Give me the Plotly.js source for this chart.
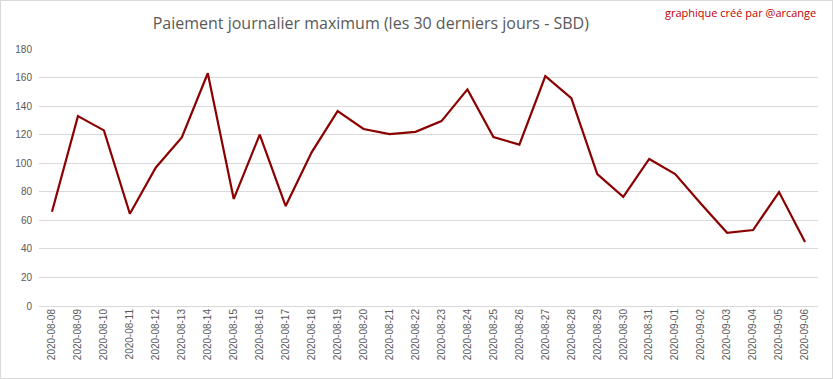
<!DOCTYPE html>
<html>
<head>
<meta charset="utf-8">
<script src="https://cdn.plot.ly/plotly-3.0.1.min.js"></script>
<style>
html,body{margin:0;padding:0;background:#fff;}
#wrap{width:831px;height:377px;border:1px solid #d9d9d9;}
#chart{width:831px;height:377px;}
</style>
</head>
<body>
<div id="wrap"><div id="chart"></div></div>
<script>
const dates = ["2020-08-08","2020-08-09","2020-08-10","2020-08-11","2020-08-12","2020-08-13","2020-08-14","2020-08-15","2020-08-16","2020-08-17","2020-08-18","2020-08-19","2020-08-20","2020-08-21","2020-08-22","2020-08-23","2020-08-24","2020-08-25","2020-08-26","2020-08-27","2020-08-28","2020-08-29","2020-08-30","2020-08-31","2020-09-01","2020-09-02","2020-09-03","2020-09-04","2020-09-05","2020-09-06"];
const maxPayout = [66,133,123,64.6,97,118,163,75,120,70,107.6,136.5,124,120.4,122,129.5,151.7,118.3,113,161,145.6,92.4,76.5,103,92.4,71.4,51.3,53.2,79.8,44.8];
const yTicks = [0,20,40,60,80,100,120,140,160,180];

const trace = {
  x: dates, y: maxPayout, type: 'scatter', mode: 'lines',
  line: {color: '#8b0000', width: 2.2},
  hoverinfo: 'x+y'
};
const layout = {
  width: 831, height: 377,
  margin: {l: 38, r: 14, t: 48, b: 72, pad: 0},
  paper_bgcolor: '#fff', plot_bgcolor: '#fff',
  showlegend: false,
  title: {text: 'Paiement journalier maximum (les 30 derniers jours - SBD)',
    font: {family: 'Open Sans, Noto Sans, sans-serif', size: 16, color: '#595959'},
    x: 0.445, xanchor: 'center', y: 0.94, yanchor: 'middle'},
  xaxis: {type: 'category', range: [-0.5, dates.length - 0.5], tickangle: -90, showgrid: false, zeroline: false,
    showline: false, ticks: '',
    tickfont: {family: 'Liberation Sans, Arial, sans-serif', size: 10, color: '#595959'},
    automargin: false},
  yaxis: {range: [0, 180], tickvals: yTicks, showgrid: true, gridcolor: '#d9d9d9', gridwidth: 1,
    zeroline: true, zerolinecolor: '#d9d9d9', zerolinewidth: 1, showline: false, ticks: '',
    ticklabelstandoff: 6,
    tickfont: {family: 'Liberation Sans, Arial, sans-serif', size: 10, color: '#595959'},
    automargin: false},
  annotations: [{text: 'graphique créé par @arcange', xref: 'paper', yref: 'paper',
    x: 1.0, y: 1.0, yshift: 37, xanchor: 'right', yanchor: 'middle', showarrow: false,
    font: {family: 'Open Sans, Noto Sans, sans-serif', size: 11, color: '#c00000'}}]
};
Plotly.newPlot('chart', [trace], layout, {displayModeBar: false, staticPlot: true});
</script>
</body>
</html>
